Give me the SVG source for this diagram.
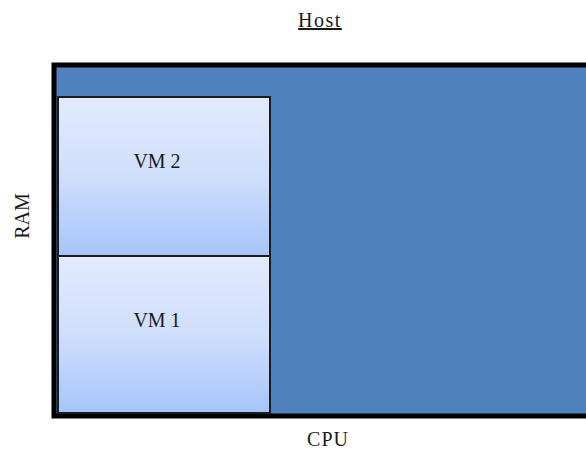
<svg xmlns="http://www.w3.org/2000/svg" width="586" height="450" viewBox="0 0 586 450">
  <style>
    .lbl { font-family: "Liberation Serif", "Times New Roman", serif; font-size: 20px; fill: #1a1a1a; }
    .vm { fill: url(#vmGrad); stroke: #1c1c1c; stroke-width: 2; }
  </style>
  <defs>
    <linearGradient id="vmGrad" x1="0" y1="0" x2="0" y2="1">
      <stop offset="0" stop-color="#e2ebfd"/>
      <stop offset="0.5" stop-color="#cfdefc"/>
      <stop offset="1" stop-color="#a6c5fb"/>
    </linearGradient>
  </defs>

  <text class="lbl" x="320" y="27" text-anchor="middle" text-decoration="underline" letter-spacing="1.5">Host</text>

  <g id="host">
    <rect x="54" y="65" width="600" height="351" fill="#4f81bd" stroke="#000" stroke-width="5"/>
  </g>

  <g id="vm2">
    <rect class="vm" x="58" y="97" width="212" height="159"/>
    <text class="lbl" x="157" y="168" text-anchor="middle">VM 2</text>
  </g>

  <g id="vm1">
    <rect class="vm" x="58" y="256" width="212" height="157"/>
    <text class="lbl" x="157" y="327" text-anchor="middle">VM 1</text>
  </g>

  <text class="lbl" x="328" y="446" text-anchor="middle" letter-spacing="1">CPU</text>
  <text class="lbl" transform="translate(29 216) rotate(-90)" text-anchor="middle">RAM</text>
</svg>
